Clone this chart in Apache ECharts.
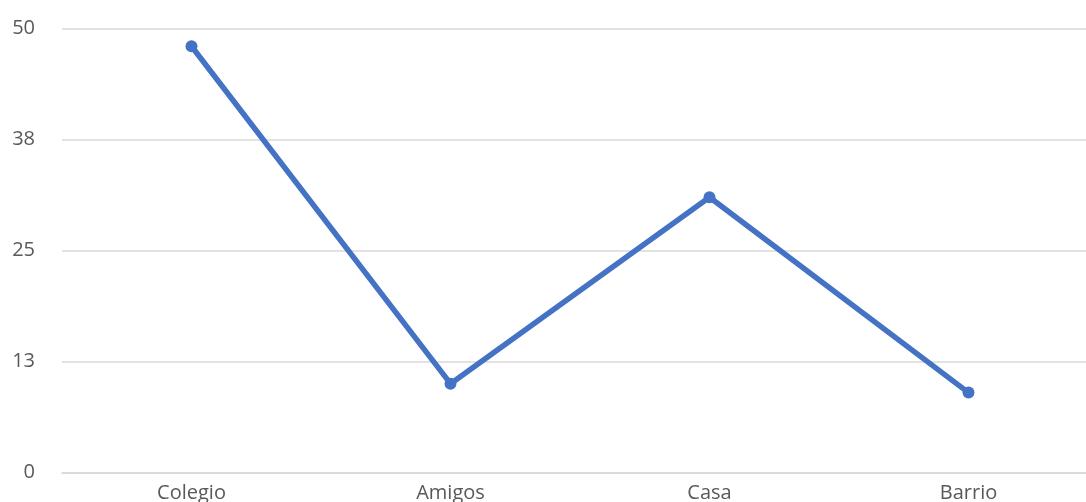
<!DOCTYPE html>
<html>
<head>
<meta charset="utf-8">
<script src="https://cdn.jsdelivr.net/npm/echarts@6/dist/echarts.min.js"></script>
<style>
	html, body { margin: 0; padding: 0; background: #fff; }
	#chart { width: 1086px; height: 502px; }
</style>
</head>
<body>
<div id="chart"></div>
<script>
// datos del grafico
var categorias = ['Colegio', 'Amigos', 'Casa', 'Barrio'];
var valores = [48, 10, 31, 9];
var yMin = 0, yMax = 50, yPaso = 12.5;

var chart = echarts.init(document.getElementById('chart'));
var option = {
	animation: false,
	grid: {
		left: 62,
		top: 28.5,
		bottom: 29.5,
		right: -12,
		outerBoundsMode: 'none', // la rejilla sigue fuera del lienzo a la derecha
		containLabel: false
	},
	xAxis: {
		type: 'category',
		data: categorias,
		boundaryGap: true,
		axisLine: { lineStyle: { color: '#d9d9d9', width: 1.5 } },
		axisTick: { show: false },
		axisLabel: {
			color: '#595959',
			fontSize: 20,
			fontFamily: 'Open Sans',
			margin: 11
		}
	},
	yAxis: {
		type: 'value',
		min: yMin,
		max: yMax,
		interval: yPaso,
		axisLine: { show: false },
		axisTick: { show: false },
		splitLine: { lineStyle: { color: '#d9d9d9', width: 1.5 } },
		axisLabel: {
			color: '#595959',
			fontSize: 20,
			fontFamily: 'Open Sans',
			margin: 27,
			formatter: function(v) { return Math.round(v); }
		}
	},
	series: [{
		type: 'line',
		data: valores,
		symbol: 'circle',
		symbolSize: 12,
		lineStyle: { color: '#4472c4', width: 5.5 },
		itemStyle: { color: '#4472c4' }
	}]
};
chart.setOption(option);
</script>
</body>
</html>
